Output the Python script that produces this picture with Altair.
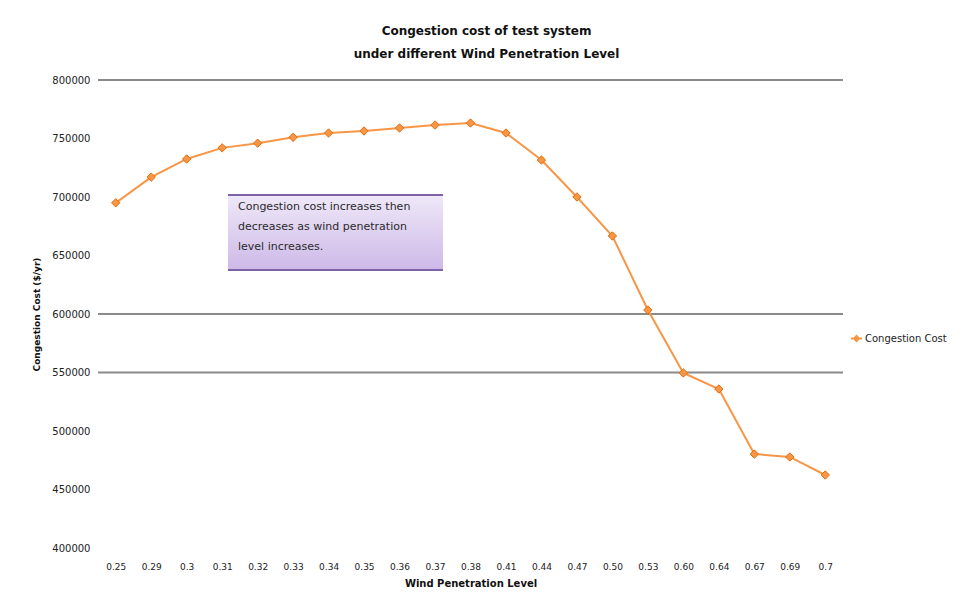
import altair as alt
import pandas as pd

# ---- data ----
levels = ["0.25", "0.29", "0.3", "0.31", "0.32", "0.33", "0.34", "0.35", "0.36", "0.37",
          "0.38", "0.41", "0.44", "0.47", "0.50", "0.53", "0.60", "0.64", "0.67", "0.69", "0.7"]
cost = [695000, 717000, 732500, 742000, 746000, 751000, 754700, 756400, 759000, 761500,
        763200, 754700, 731600, 700000, 666700, 603400, 549600, 535900, 480300, 477800, 462400]
series_name = "Congestion Cost"
grid_values = [800000, 600000, 550000]
y_ticks = [400000, 450000, 500000, 550000, 600000, 650000, 700000, 750000, 800000]
note_lines = ["Congestion cost increases then",
              "decreases as wind penetration",
              "level increases."]

df = pd.DataFrame({"level": levels, "cost": cost, "series": series_name})
grid_df = pd.DataFrame({"v": grid_values})
one = alt.Data(values=[{"a": 1}])

FONT = "DejaVu Sans"
ORANGE = "#f79646"
ORANGE_DARK = "#e46c0a"

x_scale = alt.Scale(type="point", padding=0.5)
y_scale = alt.Scale(domain=[400000, 800000], nice=False, zero=False)

y_axis = alt.Axis(title="Congestion Cost ($/yr)", values=y_ticks, format="d",
                  grid=False, domain=False, ticks=False, labelFontSize=10,
                  labelColor="#222", labelPadding=8, titleFontSize=9,
                  titleFontWeight="bold", titleColor="#111", titlePadding=10,
                  labelFont=FONT, titleFont=FONT)

grid = alt.Chart(grid_df).mark_rule(color="#8a8a8a", strokeWidth=2).encode(
    y=alt.Y("v:Q", scale=y_scale, axis=y_axis)
)

line = alt.Chart(df).mark_line(strokeWidth=2).encode(
    x=alt.X("level:N", sort=levels, scale=x_scale,
            axis=alt.Axis(title="Wind Penetration Level", labelAngle=0, labelFontSize=9,
                          labelColor="#222", domain=False, ticks=False, labelPadding=14,
                          titleFontSize=10, titleFontWeight="bold", titlePadding=7,
                          titleColor="#111", labelFont=FONT, titleFont=FONT)),
    y=alt.Y("cost:Q", scale=y_scale, axis=y_axis),
    color=alt.Color("series:N",
                    scale=alt.Scale(domain=[series_name], range=[ORANGE]),
                    legend=alt.Legend(title=None, orient="none", legendX=752, legendY=252,
                                      symbolType="M-1,0L1,0M0,-0.45L0.45,0L0,0.45L-0.45,0Z",
                                      symbolSize=120, symbolStrokeWidth=2,
                                      symbolFillColor=ORANGE, labelFontSize=10,
                                      labelFont=FONT, labelColor="#222", labelOffset=2)),
)

points = alt.Chart(df).mark_point(shape="diamond", filled=True, size=70, color=ORANGE,
                                  stroke=ORANGE_DARK, strokeWidth=1, opacity=1).encode(
    x=alt.X("level:N", sort=levels, scale=x_scale),
    y=alt.Y("cost:Q", scale=y_scale),
)

box = alt.Chart(one).mark_rect(
    color={"gradient": "linear", "x1": 0, "y1": 0, "x2": 0, "y2": 1,
           "stops": [{"offset": 0, "color": "#efe8f8"}, {"offset": 1, "color": "#cdb9e8"}]}
).encode(x=alt.value(130), x2=alt.value(345), y=alt.value(115), y2=alt.value(190))

box_top = alt.Chart(one).mark_rule(color="#7d62a6", strokeWidth=2).encode(
    x=alt.value(130), x2=alt.value(345), y=alt.value(115))
box_bot = alt.Chart(one).mark_rule(color="#7d62a6", strokeWidth=2).encode(
    x=alt.value(130), x2=alt.value(345), y=alt.value(190))

note = alt.Chart(one).mark_text(align="left", baseline="top", fontSize=11, lineHeight=20,
                                font=FONT, color="#2a2a2a").encode(
    x=alt.value(140), y=alt.value(121), text=alt.value(note_lines))

chart = alt.layer(grid, box, box_top, box_bot, note, line, points).properties(
    width=745, height=468,
    title=alt.TitleParams(["Congestion cost of test system",
                           "under different Wind Penetration Level"],
                          fontSize=12, fontWeight="bold", font=FONT, color="#111",
                          anchor="middle", lineHeight=23, offset=14, dx=16),
    autosize=alt.AutoSizeParams(type="none"),
    padding={"left": 90, "top": 72, "right": 110, "bottom": 52},
    background="white",
).configure_view(stroke=None)

chart.save("out.html", embed_options={"renderer": "svg", "actions": False})
